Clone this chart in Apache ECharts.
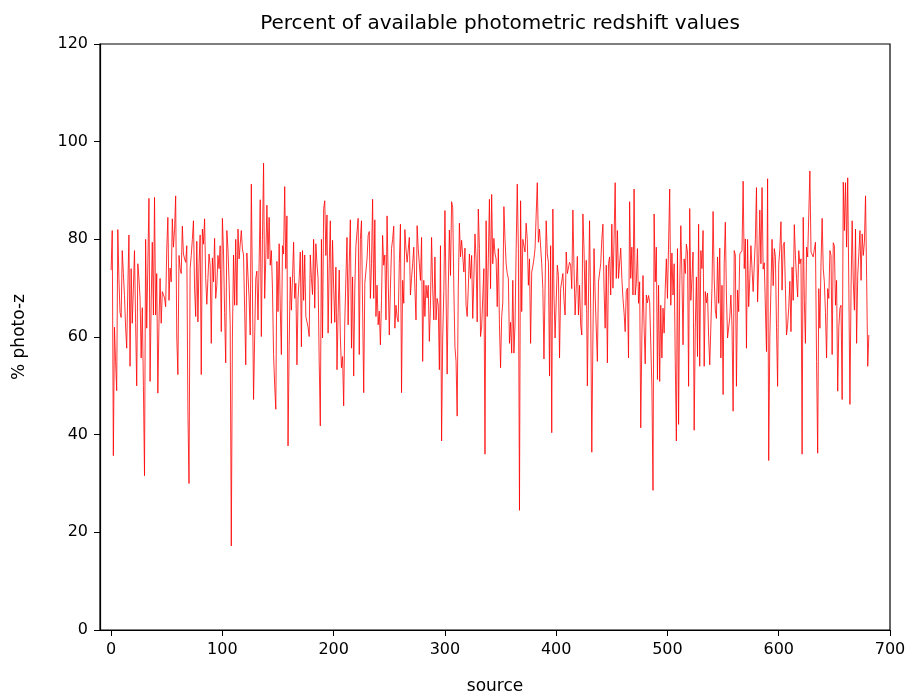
<!DOCTYPE html>
<html>
<head>
<meta charset="utf-8">
<script src="https://cdn.jsdelivr.net/npm/echarts@6/dist/echarts.min.js"></script>
<style>html,body{margin:0;padding:0;background:#fff}#c{width:913px;height:700px}</style>
</head>
<body>
<div id="c"></div>
<script>
var titleText = "Percent of available photometric redshift values";
var xName = "source";
var yName = "% photo-z";
var xTicks = [0, 100, 200, 300, 400, 500, 600, 700];
var yTicks = [0, 20, 40, 60, 80, 100, 120];

var seg1 = [73.7,81.8,35.7,62,55,49,82,72,65,64,77.7,73,68.5,62,57.7,70,80.9,54,74,62.8,70,77.7,63,50,75,72,68,55.7,66,50,31.6,80,61.8,75,88.4,50.9,67,79.4,64.5,88.6,64.5,73,48.5,63,72,62.8,69.3,69.6,68,66.2,78,84.5,67.5,74.1,71.3];
var seg2 = [84.2,78.4,82,88.9,60,52.3,76.7,74,73,82.7,77,76,75.3,78.7,45,30,74,76.7,80,83.8,70,64.2,79.6,63.1,75,80.9,52.3,82.1,79,84.2,72,66.7,72,77,74.7,58.7,76.2,71.3,80.2,67.9,70.6,76.7,74,78.7,61.1,84.3,77.4,65,54.7,81.8,78.1,71.3,62.5,17.2,60,76.8,66.5,80];
var seg3 = [66.5,82.1,76,79,81.8,78,76.8,76.7,54.3,77.2,77,68,60.4,91.3,70,47.2,60,72,73.5,63.5,75,88.1,60.1,80,95.6,67.9,76,87,76,84.5,74.7,77.7,70,56.4,50,45.2,75.5,65.2,79.1,66,56.4,78.7,77,90.8,74,84.8,37.7,58,72.3,65.5,72,79.4,67.9,71,54.3,68];
var seg4 = [72,77.4,58,77.7,67.5,76.8,64.2,64,62,60.1,76.8,72,68.7,80,65.9,79.1,75,72,55,41.8,80,59.8,86.3,87.9,76.7,85,60.8,75,83.8,62.8,79.8,70,63,74.3,53.3,65,73.7,60,53.7,56,45.9,63.1,72,80.4,62.5,75,84,57.7,72.3,52,70,78.7,78.5,84.3,56.4,80,83.8,84];
var seg5 = [48.6,71,71.2,76,80.8,81.6,67.9,75,88.2,67.9,84,64.2,70.6,62.5,65.3,58.4,67.5,80.8,74.7,76.8,63.5,84.8,72,60.4,70,78.1,80,82.7,61.8,66.5,64,63.1,75,83.1,48.6,71.6,66.9,82,78,75.3,75.2,80.4,68.6,72,75,78.4,70,63.5,82.8,78.1,75,71.6,80.4,55,71.6,64.2,70.6,68];
var seg6 = [70.6,59.1,66.5,80.4,70,63.5,76.4,63.5,67.9,66.5,53.3,78.7,38.7,60,69.3,85.9,85.9,52.4,70,81.9,72.6,87.7,86.5,70,58,55,43.8,70,83.3,76.4,79.8,79.5,73.3,78.2,66.5,64.2,70,77,72,76.7,63.8,72,81.1,76,63.1,86.2,78.1,60.1,62.1,62,74,36,83.8,64.2,76,88.2,69.9,89.2];
var seg7 = [75,80.2,77,76,66.2,78.1,62.5,53.7,64.2,67,86.7,80,75,73,72,58.7,63,56.7,71.6,56.7,62.5,78,91.3,78.1,24.5,87.9,65.2,80,79.7,77.4,83.3,80,70.6,76,58.7,73.3,74.5,76,78.1,85,91.6,79.4,82.1,82.1,75,69.9,55.5,70,83.8,77,75.3,52,78.7,40.4,86.2,68.6,59.8];
var seg8 = [59.8,74.7,72.6,55.7,69.9,69.6,73,67.5,64.5,77.4,73,72.6,75.3,74.7,69.9,86,74,64.5,70,76.5,64.5,70.6,62.5,60.4,85.2,78,66.5,75.7,50,68,83.8,65.9,36.4,60,78.1,68.6,68.3,55,71.3,71.3,75,80,83.1,70,61.8,74.7,54.7,75,76.4,68.6,83.1,70,80,91.6,72,81.8,72];
var seg9 = [72.3,78.2,72,67.9,65,61.1,69.3,70,55.7,87.7,72,78.4,68.6,90.3,68.6,71,78.1,66.9,71.3,41.4,60,72.6,62,54.5,68.6,67,68.5,67.2,67.5,50,28.6,85.2,71.3,78.4,51.3,70.6,50.9,66.5,55.7,65.9,60.8,70,76,67.9,67.5,90.3,66.5,77.2,68.6,75,55,38.7,78.1,42.1,70,82.8,72.6,58.4];
var seg10 = [76,73,79,77.4,49.9,86.3,67.5,72,77.4,40.9,62,72.3,56,83.1,54,77.7,74,81.8,54,69.3,67,69,60,54.3,54.3,70,85.7,72,65.5,63.8,76.4,66.9,78.2,55.7,70.6,48.2,75,83.5,68.6,59.8,59.5,64,68.6,62.5,44.8,77.7,76.8,49.9,69.6,65.2,77,77.4,77.7,91.9,74,80.1,57.7];
var seg11 = [80,66.2,72,78.7,74,69.3,69,80,90.6,67.2,75,86,75,90.6,73.9,75.2,74.9,57,92.4,34.7,60,70,80,70.5,78.1,76.5,62,49.9,74.9,78,83.6,69.6,78.7,79.4,70,60.4,62.5,66,71.4,61.1,74.3,67.5,83,76.6,72,68.2,77.7,75,76,36,84.5,67.5,58.7,78.4,76.4,85,94,77.4];
var seg12 = [77.4,76.4,78,79.4,55,36.2,69.9,61.8,75,84.3,74,71.3,65,55.7,69.9,67.9,77.7,76.7,56.4,79.3,78.7,66.5,71.6,48.9,62,65.9,66.5,47.2,91.7,81.8,91.6,78.4,92.6,70,46.2,70,83.8,71.3,65.5,82.1,58.7,72.6,77,81.8,71.6,81.1,76.7,79.4,88.9,72,54,60.4];

var values = [].concat(seg1, seg2, seg3, seg4, seg5, seg6, seg7, seg8, seg9, seg10, seg11, seg12);
var points = values.map(function (v, i) { return [i, v]; });

var font = 'DejaVu Sans';
var chart = echarts.init(document.getElementById('c'), null, {renderer: 'canvas'});
chart.setOption({
  animation: false,
  backgroundColor: '#fff',
  title: {
    text: titleText, left: 495, top: 9, textAlign: 'center',
    textStyle: {fontFamily: font, fontSize: 20, fontWeight: 'normal', color: '#000'}
  },
  grid: {left: 100, right: 23, top: 44, bottom: 62, show: true, borderColor: '#000', borderWidth: 1.2, backgroundColor: 'transparent'},
  xAxis: {
    type: 'value', min: -10, max: 700,
    name: xName, nameLocation: 'middle', nameGap: 48,
    nameTextStyle: {fontFamily: font, fontSize: 17, color: '#000'},
    axisLine: {show: true, onZero: false, lineStyle: {color: '#000', width: 1.2}},
    axisTick: {show: true, customValues: xTicks, length: 6, lineStyle: {color: '#000', width: 1}},
    axisLabel: {customValues: xTicks, fontFamily: font, fontSize: 16, color: '#000', margin: 12},
    splitLine: {show: false}
  },
  yAxis: {
    type: 'value', min: 0, max: 120, interval: 20,
    name: yName, nameLocation: 'middle', nameGap: 72, nameRotate: 90,
    nameTextStyle: {fontFamily: font, fontSize: 17, color: '#000'},
    axisLine: {show: true, onZero: false, lineStyle: {color: '#000', width: 1.2}},
    axisTick: {show: true, length: 6, lineStyle: {color: '#000', width: 1}},
    axisLabel: {fontFamily: font, fontSize: 16, color: '#000', margin: 12},
    splitLine: {show: false}
  },
  series: [{
    type: 'line', data: points, showSymbol: false, symbol: 'none',
    lineStyle: {color: '#ff0000', width: 0.8}
  }]
});
</script>
</body>
</html>
